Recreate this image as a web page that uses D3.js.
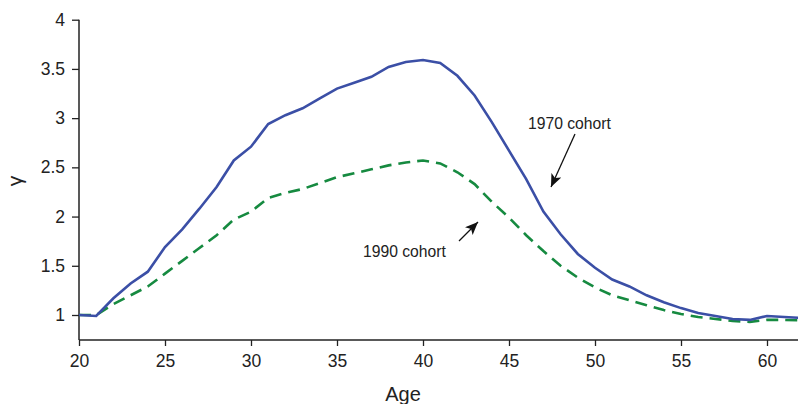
<!DOCTYPE html>
<html><head><meta charset="utf-8">
<script src="https://cdn.jsdelivr.net/npm/d3@7/dist/d3.min.js"></script>
<style>body{margin:0;background:#fff}svg{display:block}text{font-family:"Liberation Sans",Arial,sans-serif;fill:#222}</style>
</head><body>
<svg id="c" width="798" height="404"></svg>
<script>
const ages = d3.range(20, 63);
const cohort1970 = [1.00,0.99,1.17,1.32,1.44,1.69,1.87,2.08,2.30,2.57,2.71,2.94,3.03,3.10,3.20,3.30,3.36,3.42,3.52,3.57,3.59,3.56,3.43,3.23,2.96,2.67,2.38,2.05,1.82,1.62,1.48,1.36,1.29,1.20,1.13,1.07,1.02,0.99,0.96,0.95,0.99,0.98,0.97];
const cohort1990 = [1.00,1.00,1.11,1.20,1.29,1.42,1.55,1.68,1.81,1.97,2.05,2.19,2.24,2.28,2.34,2.40,2.44,2.48,2.52,2.55,2.57,2.54,2.45,2.33,2.15,1.99,1.81,1.65,1.50,1.38,1.28,1.20,1.15,1.10,1.05,1.01,0.98,0.96,0.94,0.93,0.95,0.95,0.945];
const xTicks = [20,25,30,35,40,45,50,55,60];
const yTicks = [1,1.5,2,2.5,3,3.5,4];
const yTickLabels = ["1","1.5","2","2.5","3","3.5","4"];

const svg = d3.select("#c");
const x = d3.scaleLinear().domain([20,62]).range([79,801.4]);
const y = d3.scaleLinear().domain([0.746,4]).range([340,19.7]);

// axes
const xAxis = svg.append("g").attr("transform","translate(0,340)")
  .call(d3.axisBottom(x).tickValues(xTicks).tickSize(6).tickPadding(9).tickFormat(d3.format("d")));
const yAxis = svg.append("g").attr("transform","translate(79,0)")
  .call(d3.axisLeft(y).tickValues(yTicks).tickSize(7).tickPadding(7).tickFormat((d,i)=>yTickLabels[i]));
[xAxis,yAxis].forEach(g=>{
  g.select(".domain").attr("stroke","#222").attr("stroke-width",1.5);
  g.selectAll(".tick line").attr("stroke","#222").attr("stroke-width",1.3);
  g.selectAll(".tick text").attr("font-size",17.5).attr("fill","#222").attr("font-family","Liberation Sans, Arial, sans-serif");
});
xAxis.select(".domain").attr("d","M79,0H798");
yAxis.select(".domain").attr("d","M0,"+y(4)+"V340");

const line = d3.line().x((d,i)=>x(ages[i])).y(d=>y(d));
svg.append("path").datum(cohort1990).attr("d",line).attr("fill","none")
  .attr("stroke","#168a40").attr("stroke-width",2.6).attr("stroke-dasharray","12,7");
svg.append("path").datum(cohort1970).attr("d",line).attr("fill","none")
  .attr("stroke","#3b4fa6").attr("stroke-width",2.6);

// labels
svg.append("text").attr("x",403).attr("y",401).attr("text-anchor","middle").attr("font-size",20).text("Age");
svg.append("text").attr("transform","translate(22,181) rotate(-90)").attr("text-anchor","middle").attr("font-size",21).text("γ");

// annotations
const defs = svg.append("defs");
defs.append("marker").attr("id","ah").attr("viewBox","0 0 12 10").attr("refX",12).attr("refY",5)
  .attr("markerWidth",13).attr("markerHeight",11).attr("markerUnits","userSpaceOnUse").attr("orient","auto")
  .append("path").attr("d","M0,0 L12,5 L0,10 L3,5 Z").attr("fill","#111");
svg.append("text").attr("x",528).attr("y",129).attr("font-size",15.7).text("1970 cohort");
svg.append("line").attr("x1",575).attr("y1",134).attr("x2",551).attr("y2",187)
  .attr("stroke","#111").attr("stroke-width",1.3).attr("marker-end","url(#ah)");
svg.append("text").attr("x",363).attr("y",257).attr("font-size",15.7).text("1990 cohort");
svg.append("line").attr("x1",459).attr("y1",241).attr("x2",478).attr("y2",222)
  .attr("stroke","#111").attr("stroke-width",1.3).attr("marker-end","url(#ah)");
</script>
</body></html>
